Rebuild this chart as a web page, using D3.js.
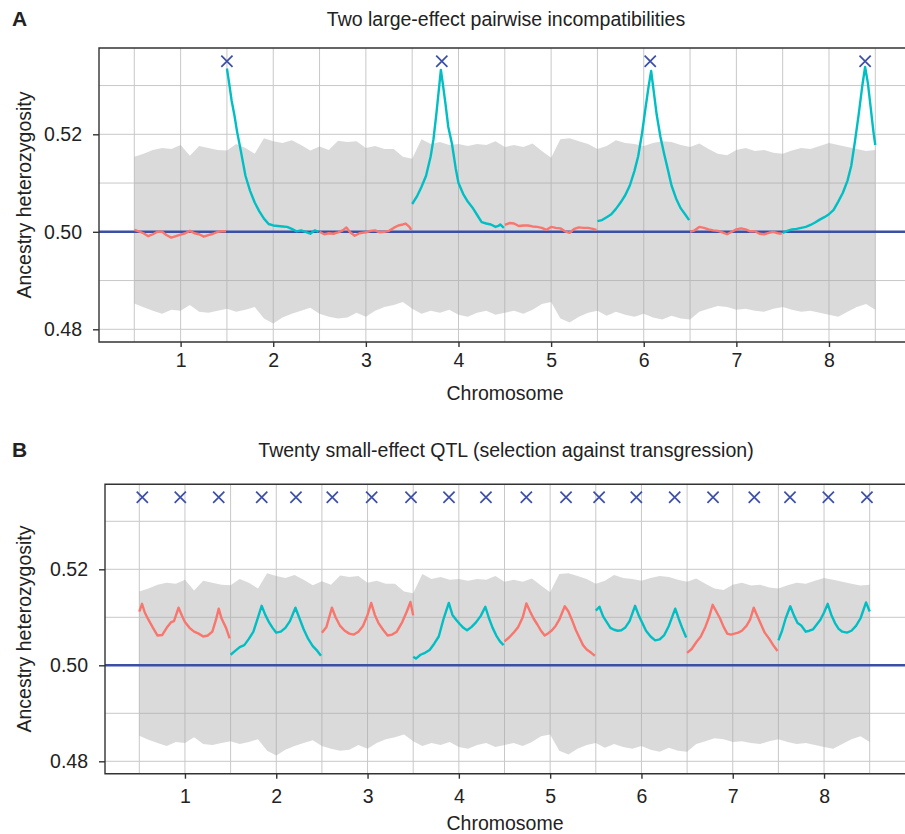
<!DOCTYPE html>
<html>
<head>
<meta charset="utf-8">
<script src="https://cdn.jsdelivr.net/npm/d3@7"></script>
<style>
  body { margin: 0; background: #fff; }
  svg { display: block; font-family: "Liberation Sans", Arial, Helvetica, sans-serif; }
</style>
</head>
<body>
<svg id="chart" width="905" height="834"></svg>
<script>
// Datos
const chromosomes = [1, 2, 3, 4, 5, 6, 7, 8];
const yTicks = [0.48, 0.50, 0.52];

// Posiciones de los QTL (marcas X)
const qtlA = [1.50, 3.82, 6.07, 8.39];
const qtlB = [0.533, 0.949, 1.370, 1.841, 2.216, 2.614, 3.045, 3.476, 3.892, 4.297,
              4.739, 5.174, 5.536, 5.944, 6.364, 6.784, 7.236, 7.627, 8.047, 8.470];
const qtlMarkValue = 0.535;

// Banda nula (gris): posiciones cada 0.1 y límites superior / inferior
const bandPos = d3.range(0.5, 8.501, 0.1);
const bandUpper = [0.5154, 0.5160, 0.5168, 0.5172, 0.5170, 0.5178, 0.5156, 0.5176, 0.5172, 0.5168,
                   0.5167, 0.5180, 0.5172, 0.5160, 0.5192, 0.5186, 0.5182, 0.5188, 0.5178, 0.5167,
                   0.5175, 0.5168, 0.5187, 0.5184, 0.5186, 0.5172, 0.5176, 0.5170, 0.5170, 0.5154,
                   0.5150, 0.5190, 0.5180, 0.5184, 0.5178, 0.5180, 0.5176, 0.5180, 0.5178, 0.5186,
                   0.5174, 0.5178, 0.5174, 0.5181, 0.5166, 0.5152, 0.5190, 0.5192, 0.5186, 0.5180,
                   0.5170, 0.5176, 0.5188, 0.5182, 0.5180, 0.5176, 0.5182, 0.5186, 0.5184, 0.5178,
                   0.5174, 0.5181, 0.5170, 0.5160, 0.5157, 0.5168, 0.5172, 0.5166, 0.5168, 0.5162,
                   0.5160, 0.5167, 0.5172, 0.5170, 0.5176, 0.5182, 0.5178, 0.5174, 0.5170, 0.5166,
                   0.5168];
const bandLower = [0.4853, 0.4845, 0.4838, 0.4832, 0.4840, 0.4838, 0.4850, 0.4836, 0.4834, 0.4838,
                   0.4842, 0.4836, 0.4840, 0.4846, 0.4822, 0.4812, 0.4824, 0.4832, 0.4838, 0.4844,
                   0.4832, 0.4826, 0.4822, 0.4824, 0.4834, 0.4826, 0.4838, 0.4846, 0.4850, 0.4856,
                   0.4842, 0.4832, 0.4838, 0.4834, 0.4840, 0.4830, 0.4826, 0.4834, 0.4838, 0.4830,
                   0.4834, 0.4838, 0.4832, 0.4840, 0.4852, 0.4856, 0.4822, 0.4814, 0.4826, 0.4834,
                   0.4838, 0.4828, 0.4836, 0.4830, 0.4826, 0.4832, 0.4824, 0.4820, 0.4828, 0.4822,
                   0.4820, 0.4836, 0.4842, 0.4848, 0.4846, 0.4840, 0.4842, 0.4838, 0.4836, 0.4842,
                   0.4846, 0.4840, 0.4836, 0.4838, 0.4834, 0.4830, 0.4826, 0.4836, 0.4846, 0.4852,
                   0.4840];

// Panel A: heterocigosidad por cromosoma [posición, valor]
const hetA1 = [[0.50,0.5004],[0.55,0.5001],[0.60,0.4997],[0.65,0.4991],[0.70,0.4995],[0.75,0.5000],[0.80,0.5000],
               [0.85,0.4993],[0.90,0.4988],[0.95,0.4991],[1.00,0.4994],[1.05,0.4997],[1.10,0.5002],[1.15,0.4997],
               [1.20,0.4995],[1.25,0.4990],[1.30,0.4993],[1.35,0.4996],[1.40,0.5000],[1.45,0.5001],[1.49,0.5001]];
const hetA2 = [[1.50,0.5335],[1.52,0.5310],[1.55,0.5270],[1.58,0.5240],[1.61,0.5205],[1.65,0.5166],[1.70,0.5115],
               [1.75,0.5084],[1.80,0.5060],[1.85,0.5042],[1.90,0.5027],[1.95,0.5016],[2.00,0.5013],[2.05,0.5012],
               [2.10,0.5011],[2.15,0.5010],[2.20,0.5006],[2.25,0.5001],[2.30,0.5003],[2.35,0.5000],[2.40,0.4996],
               [2.45,0.5003],[2.49,0.5000]];
const hetA3 = [[2.50,0.5000],[2.55,0.4995],[2.60,0.4997],[2.65,0.4996],[2.70,0.4999],[2.75,0.5003],[2.79,0.5009],
               [2.83,0.4999],[2.88,0.4992],[2.93,0.4997],[3.00,0.4999],[3.05,0.5002],[3.10,0.5003],[3.15,0.4999],
               [3.20,0.5000],[3.25,0.5002],[3.30,0.5008],[3.35,0.5013],[3.40,0.5015],[3.43,0.5017],[3.47,0.5010],
               [3.49,0.5004]];
const hetA4 = [[3.50,0.5057],[3.55,0.5072],[3.60,0.5092],[3.65,0.5115],[3.70,0.5155],[3.73,0.5190],[3.76,0.5240],
               [3.79,0.5295],[3.81,0.5332],[3.83,0.5305],[3.86,0.5262],[3.89,0.5215],[3.93,0.5180],[3.97,0.5130],
               [4.00,0.5100],[4.05,0.5078],[4.10,0.5062],[4.15,0.5050],[4.20,0.5035],[4.25,0.5020],[4.30,0.5017],
               [4.35,0.5015],[4.40,0.5010],[4.43,0.5012],[4.45,0.5015],[4.49,0.5008]];
const hetA5 = [[4.50,0.5014],[4.55,0.5018],[4.60,0.5017],[4.65,0.5012],[4.70,0.5013],[4.75,0.5013],[4.80,0.5011],
               [4.85,0.5010],[4.90,0.5008],[4.95,0.5004],[5.00,0.5010],[5.05,0.5008],[5.10,0.5007],[5.15,0.5001],
               [5.20,0.4998],[5.25,0.5006],[5.30,0.5009],[5.35,0.5008],[5.40,0.5008],[5.45,0.5006],[5.49,0.5004]];
const hetA6 = [[5.50,0.5022],[5.55,0.5024],[5.60,0.5030],[5.65,0.5036],[5.70,0.5047],[5.75,0.5060],[5.80,0.5075],
               [5.85,0.5095],[5.90,0.5125],[5.94,0.5155],[5.98,0.5200],[6.02,0.5255],[6.05,0.5295],[6.08,0.5330],
               [6.11,0.5285],[6.14,0.5240],[6.18,0.5195],[6.22,0.5160],[6.26,0.5128],[6.30,0.5095],[6.35,0.5068],
               [6.40,0.5048],[6.45,0.5035],[6.49,0.5024]];
const hetA7 = [[6.50,0.5000],[6.55,0.5003],[6.60,0.5010],[6.65,0.5008],[6.70,0.5005],[6.75,0.5003],[6.80,0.5002],
               [6.85,0.4999],[6.90,0.4995],[6.95,0.5000],[7.00,0.5005],[7.05,0.5007],[7.10,0.5005],[7.15,0.5001],
               [7.20,0.5001],[7.25,0.4996],[7.30,0.4995],[7.35,0.4998],[7.40,0.5000],[7.45,0.4997],[7.49,0.4996]];
const hetA8 = [[7.50,0.4998],[7.55,0.5002],[7.60,0.5005],[7.65,0.5006],[7.70,0.5008],[7.75,0.5010],[7.80,0.5014],
               [7.85,0.5019],[7.90,0.5025],[7.95,0.5030],[8.00,0.5036],[8.05,0.5045],[8.10,0.5062],[8.15,0.5080],
               [8.20,0.5105],[8.24,0.5135],[8.28,0.5185],[8.32,0.5240],[8.36,0.5300],[8.39,0.5338],[8.42,0.5305],
               [8.45,0.5255],[8.48,0.5205],[8.50,0.5178]];

// Panel B
const hetB1 = [[0.50,0.5112],[0.53,0.5128],[0.56,0.5110],[0.60,0.5095],[0.65,0.5078],[0.70,0.5062],[0.75,0.5063],
               [0.80,0.5078],[0.85,0.5090],[0.88,0.5092],[0.93,0.5120],[0.97,0.5102],[1.00,0.5090],[1.05,0.5078],
               [1.10,0.5070],[1.15,0.5066],[1.20,0.5060],[1.25,0.5062],[1.30,0.5070],[1.34,0.5095],[1.37,0.5118],
               [1.40,0.5098],[1.45,0.5078],[1.49,0.5056]];
const hetB2 = [[1.50,0.5022],[1.55,0.5030],[1.60,0.5038],[1.65,0.5042],[1.70,0.5055],[1.75,0.5070],[1.80,0.5100],
               [1.84,0.5124],[1.88,0.5105],[1.92,0.5090],[1.96,0.5078],[2.00,0.5068],[2.05,0.5070],[2.10,0.5078],
               [2.15,0.5092],[2.21,0.5120],[2.25,0.5100],[2.30,0.5075],[2.35,0.5055],[2.40,0.5040],[2.45,0.5030],
               [2.49,0.5020]];
const hetB3 = [[2.50,0.5068],[2.55,0.5080],[2.61,0.5120],[2.65,0.5100],[2.70,0.5082],[2.75,0.5072],[2.80,0.5066],
               [2.85,0.5064],[2.90,0.5070],[2.95,0.5082],[3.00,0.5105],[3.04,0.5130],[3.08,0.5105],[3.12,0.5088],
               [3.17,0.5074],[3.22,0.5062],[3.27,0.5064],[3.32,0.5070],[3.38,0.5090],[3.43,0.5112],[3.47,0.5132],
               [3.50,0.5104]];
const hetB4 = [[3.50,0.5018],[3.53,0.5014],[3.58,0.5022],[3.63,0.5026],[3.68,0.5032],[3.73,0.5045],[3.78,0.5060],
               [3.83,0.5095],[3.89,0.5130],[3.93,0.5105],[3.97,0.5095],[4.01,0.5086],[4.05,0.5078],[4.09,0.5073],
               [4.14,0.5080],[4.19,0.5090],[4.24,0.5103],[4.29,0.5122],[4.33,0.5098],[4.37,0.5078],[4.41,0.5062],
               [4.45,0.5050],[4.49,0.5042]];
const hetB5 = [[4.50,0.5050],[4.55,0.5058],[4.60,0.5068],[4.65,0.5080],[4.70,0.5100],[4.74,0.5129],[4.78,0.5112],
               [4.82,0.5097],[4.86,0.5085],[4.90,0.5072],[4.94,0.5062],[4.98,0.5067],[5.02,0.5073],[5.06,0.5082],
               [5.10,0.5095],[5.16,0.5123],[5.20,0.5112],[5.24,0.5094],[5.28,0.5074],[5.32,0.5058],[5.36,0.5042],
               [5.40,0.5033],[5.45,0.5026],[5.49,0.5020]];
const hetB6 = [[5.50,0.5114],[5.54,0.5122],[5.58,0.5102],[5.62,0.5090],[5.66,0.5078],[5.70,0.5074],[5.74,0.5072],
               [5.78,0.5073],[5.82,0.5078],[5.87,0.5092],[5.93,0.5124],[5.97,0.5104],[6.01,0.5088],[6.05,0.5072],
               [6.10,0.5060],[6.15,0.5052],[6.20,0.5054],[6.25,0.5063],[6.30,0.5082],[6.37,0.5118],[6.41,0.5096],
               [6.45,0.5076],[6.49,0.5058]];
const hetB7 = [[6.50,0.5026],[6.55,0.5034],[6.60,0.5048],[6.65,0.5060],[6.70,0.5080],[6.74,0.5100],[6.78,0.5126],
               [6.82,0.5112],[6.86,0.5098],[6.90,0.5080],[6.94,0.5066],[6.98,0.5064],[7.02,0.5066],[7.06,0.5068],
               [7.10,0.5072],[7.15,0.5082],[7.19,0.5095],[7.23,0.5120],[7.27,0.5102],[7.31,0.5085],[7.35,0.5068],
               [7.40,0.5055],[7.45,0.5040],[7.49,0.5030]];
const hetB8 = [[7.50,0.5052],[7.54,0.5072],[7.58,0.5098],[7.63,0.5123],[7.67,0.5104],[7.71,0.5088],[7.75,0.5083],
               [7.80,0.5070],[7.84,0.5072],[7.88,0.5075],[7.92,0.5085],[7.96,0.5095],[8.00,0.5110],[8.04,0.5128],
               [8.08,0.5105],[8.12,0.5088],[8.16,0.5076],[8.20,0.5070],[8.25,0.5068],[8.30,0.5072],[8.35,0.5082],
               [8.40,0.5098],[8.46,0.5131],[8.50,0.5112]];

const RED = "#F8766D", TEAL = "#00BFC4", BLUE = "#3B4FA6";
const TEXT = "#222";
const FS = 19.5; // tamaño de letra

const svg = d3.select("#chart");

// Dibujar un panel
function drawPanel(p) {
    const x = d3.scaleLinear().domain([0.5, 8.5]).range([p.x0, p.x1]);
    const y = d3.scaleLinear().domain([0.48, 0.52]).range([p.y48, p.y52]);
    const g = svg.append("g");

    // Rejilla
    g.selectAll(".vgrid")
        .data(d3.range(0.5, 8.51, 0.5))
        .enter().append("line")
        .attr("x1", d => x(d)).attr("x2", d => x(d))
        .attr("y1", p.top).attr("y2", p.bottom)
        .attr("stroke", "#c8c8c8").attr("stroke-width", 1);
    g.selectAll(".hgrid")
        .data([0.48, 0.49, 0.50, 0.51, 0.52, 0.53])
        .enter().append("line")
        .attr("x1", p.left).attr("x2", p.right)
        .attr("y1", d => y(d)).attr("y2", d => y(d))
        .attr("stroke", "#c8c8c8").attr("stroke-width", 1);

    // Banda gris
    const area = d3.area()
        .x((d, i) => x(bandPos[i]))
        .y0((d, i) => y(bandLower[i]))
        .y1((d, i) => y(bandUpper[i]));
    g.append("path")
        .datum(bandPos)
        .attr("d", area)
        .attr("fill", "#a6a6a6")
        .attr("fill-opacity", 0.42);

    // Línea horizontal 0.5
    g.append("line")
        .attr("x1", p.left).attr("x2", p.right)
        .attr("y1", y(0.5)).attr("y2", y(0.5))
        .attr("stroke", BLUE).attr("stroke-width", 2.4);

    // Líneas por cromosoma
    const line = d3.line().x(d => x(d[0])).y(d => y(d[1]));
    p.lines.forEach((data, i) => {
        g.append("path")
            .datum(data)
            .attr("d", line)
            .attr("fill", "none")
            .attr("stroke", chromosomes[i] % 2 === 1 ? RED : TEAL)
            .attr("stroke-width", 2.4)
            .attr("stroke-linejoin", "round");
    });

    // Marcas X de los QTL
    const r = 5.6;
    g.selectAll(".qtl")
        .data(p.qtl)
        .enter().append("path")
        .attr("transform", d => `translate(${x(d)},${y(qtlMarkValue)})`)
        .attr("d", `M${-r},${-r}L${r},${r}M${-r},${r}L${r},${-r}`)
        .attr("stroke", BLUE).attr("stroke-width", 1.7).attr("fill", "none");

    // Marco
    g.append("path")
        .attr("d", `M${p.right},${p.top}H${p.left}V${p.bottom}H${p.right}`)
        .attr("fill", "none").attr("stroke", "#333").attr("stroke-width", 1.4);

    // Ejes
    const yAxis = g.append("g")
        .attr("transform", `translate(${p.left},0)`)
        .call(d3.axisLeft(y).tickValues(yTicks).tickFormat(d3.format(".2f"))
            .tickSize(6).tickPadding(p.yPad));
    const xAxis = g.append("g")
        .attr("transform", `translate(0,${p.bottom})`)
        .call(d3.axisBottom(x).tickValues(chromosomes).tickFormat(d3.format("d"))
            .tickSize(5).tickPadding(p.xPad));
    [yAxis, xAxis].forEach(a => {
        a.select(".domain").remove();
        a.selectAll("line").attr("stroke", "#333").attr("stroke-width", 1.4);
        a.selectAll("text").attr("fill", TEXT).attr("font-size", FS)
            .attr("font-family", "'Liberation Sans', Arial, sans-serif");
    });

    // Textos
    svg.append("text")
        .attr("x", 12).attr("y", p.titleY)
        .attr("font-size", 21).attr("font-weight", "bold").attr("fill", TEXT)
        .text(p.letter);
    svg.append("text")
        .attr("x", 506).attr("y", p.titleY)
        .attr("text-anchor", "middle").attr("font-size", FS).attr("fill", TEXT)
        .text(p.title);
    svg.append("text")
        .attr("x", 505).attr("y", p.xLabelY)
        .attr("text-anchor", "middle").attr("font-size", FS).attr("fill", TEXT)
        .text("Chromosome");
    svg.append("text")
        .attr("transform", `translate(31,${(p.top + p.bottom) / 2}) rotate(-90)`)
        .attr("text-anchor", "middle").attr("font-size", FS).attr("fill", TEXT)
        .text("Ancestry heterozygosity");
}

drawPanel({
    letter: "A", title: "Two large-effect pairwise incompatibilities",
    left: 99, right: 912, top: 48, bottom: 342,
    x0: 134.3, x1: 875.3, y48: 329.3, y52: 134.3,
    yPad: 11, xPad: 6, titleY: 26, xLabelY: 400,
    lines: [hetA1, hetA2, hetA3, hetA4, hetA5, hetA6, hetA7, hetA8], qtl: qtlA
});
drawPanel({
    letter: "B", title: "Twenty small-effect QTL (selection against transgression)",
    left: 105, right: 915, top: 484.3, bottom: 773.7,
    x0: 139.3, x1: 869.7, y48: 761.3, y52: 569.3,
    yPad: 11, xPad: 10, titleY: 456.7, xLabelY: 830,
    lines: [hetB1, hetB2, hetB3, hetB4, hetB5, hetB6, hetB7, hetB8], qtl: qtlB
});
</script>
</body>
</html>
